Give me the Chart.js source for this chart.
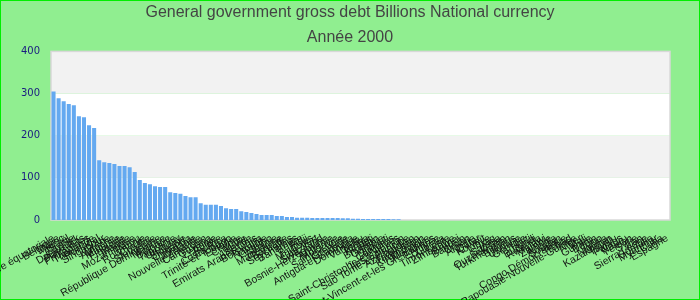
<!DOCTYPE html>
<html>
<head>
<meta charset="utf-8">
<script src="https://cdn.jsdelivr.net/npm/chart.js@4/dist/chart.umd.min.js"></script>
<style>
  body { margin: 0; background: #90ee90; }
  canvas { display: block; }
</style>
</head>
<body>
<canvas id="debt" width="700" height="300"></canvas>
<script>
var countries = [
  "Guinée équatoriale", "Belgique", "Maroc", "Israël", "Égypte", "Danemark", "Pays-Bas", "Philippines",
  "Thaïlande", "Portugal", "Singapour", "Grèce", "Autriche", "Malaisie", "Finlande", "Irlande",
  "Mozambique", "Pérou", "Roumanie", "Croatie", "Slovaquie", "République Dominicaine", "Maurice", "Bulgarie",
  "Tanzanie", "Uruguay", "Slovénie", "Ouganda", "Jordanie", "Nouvelle-Zélande", "Cameroun", "Guyana",
  "Lettonie", "Bolivie", "Costa Rica", "Trinité-et-Tobago", "Estonie", "Chypre", "Malte", "Islande",
  "Emirats Arabes Unis", "Botswana", "Namibie", "Lesotho", "Albanie", "Macédoine", "Barbade", "Seychelles",
  "Bahamas", "Belize", "Fidji", "Maldives", "Cap-Vert", "Swaziland", "Bosnie-Herzégovine", "Arménie",
  "Moldavie", "Sainte-Lucie", "Grenade", "Antigua-et-Barbuda", "Dominique", "Vanuatu", "Tonga", "Kiribati",
  "Bhoutan", "Gambie", "Djibouti", "Comores", "Saint-Christophe-et-Niévès", "Îles Salomon", "Sao Tomé-et-Principe", "Azerbaïdjan",
  "Tadjikistan", "Kirghizistan", "Mongolie", "Saint-Vincent-et-les Grenadines", "Érythrée", "Libéria", "Timor-Leste", "Zimbabwe",
  "Brunei", "Bahreïn", "Oman", "Algérie", "Qatar", "Koweït", "Libye", "Iraq",
  "Samoa", "Ouzbékistan", "Turkménistan", "Bélarus", "Ukraine", "Géorgie", "Haïti", "Burundi",
  "Rwanda", "Malawi", "Zambie", "Angola", "Soudan", "Congo Démocratique", "Tchad", "Papouasie-Nouvelle-Guinée",
  "Niger", "Mali", "Guinée", "Bénin", "Togo", "Nigéria", "Kazakhstan", "Tuvalu",
  "Palaos", "Nauru", "Yémen", "Syrie", "Iran", "Sierra Leone", "Somalie", "Myanmar",
  "Cuba", "Espagne"
];

var debt2000 = [
  305, 289, 282, 275, 272, 246, 244, 225,
  218, 142, 137, 135, 133, 128, 128, 125,
  114, 95, 88, 85, 80, 78, 78, 66,
  64, 62, 57, 54, 54, 40, 36, 36,
  36, 33, 28, 26, 26, 21, 19, 16.6,
  14.2, 12, 11.8, 11.6, 9.5, 9.3, 7.1, 6.9,
  5.3, 5.2, 5.1, 5.0, 4.9, 4.8, 4.7, 4.6,
  4.5, 4.4, 4.3, 2.9, 2.8, 2.6, 2.5, 2.4,
  2.3, 2.2, 2.1, 2.0, 1.9, 0, 0, 0,
  0, 0, 0, 0, 0, 0, 0, 0,
  0, 0, 0, 0, 0, 0, 0, 0,
  0, 0, 0, 0, 0, 0, 0, 0,
  0, 0, 0, 0, 0, 0, 0, 0,
  0, 0, 0, 0, 0, 0, 0, 0,
  0, 0, 0, 0, 0, 0, 0, 0,
  0, 0
];

var yTicks = [0, 100, 200, 300, 400];

// background, frame, alternating bands behind the bars
var backdrop = {
  id: "backdrop",
  beforeDraw: function (chart) {
    var c = chart.ctx;
    var area = chart.chartArea;
    var y = chart.scales.y;
    c.save();
    c.fillStyle = "#90ee90";
    c.fillRect(0, 0, chart.width, chart.height);
    c.strokeStyle = "#00ee00";
    c.lineWidth = 1;
    c.strokeRect(0.5, 0.5, chart.width - 1, chart.height - 1);
    for (var i = 0; i < yTicks.length - 1; i++) {
      var top = y.getPixelForValue(yTicks[i + 1]);
      var bottom = y.getPixelForValue(yTicks[i]);
      c.fillStyle = i % 2 === 0 ? "#ffffff" : "#f2f2f2";
      c.fillRect(area.left, top, area.right - area.left, bottom - top);
    }
    c.strokeStyle = "#d8d8d8";
    c.lineWidth = 1.5;
    c.strokeRect(area.left, area.top, area.right - area.left, area.bottom - area.top);
    c.restore();
  },
};

var ctx = document.getElementById("debt").getContext("2d");
var chart = new Chart(ctx, {
  type: "bar",
  data: {
    labels: countries,
    datasets: [
      {
        label: "Année 2000",
        data: debt2000,
        backgroundColor: "#64a9f0",
        borderWidth: 0,
        barPercentage: 0.8,
        categoryPercentage: 1.0,
      },
    ],
  },
  options: {
    responsive: false,
    animation: false,
    devicePixelRatio: 1,
    layout: { padding: 0 },
    plugins: {
      legend: { display: false },
      tooltip: { enabled: false },
      title: {
        display: true,
        text: "General government gross debt Billions National currency",
        color: "#444444",
        font: { family: "Liberation Sans, Arial", size: 16, weight: "normal" },
        padding: { top: 3, bottom: 6 },
      },
      subtitle: {
        display: true,
        text: "Année 2000",
        color: "#444444",
        font: { family: "Liberation Sans, Arial", size: 16, weight: "normal" },
        padding: { top: 0, bottom: 4 },
      },
    },
    scales: {
      x: {
        grid: { display: false, drawTicks: false },
        border: { display: false },
        ticks: {
          autoSkip: false,
          minRotation: 30,
          maxRotation: 30,
          padding: 12,
          color: "#111111",
          font: { family: "Liberation Sans, Arial", size: 10.5 },
        },
        afterFit: function (axis) {
          axis.height = 80;
          axis.paddingLeft = 0;
          axis.paddingRight = 0;
        },
      },
      y: {
        min: 0,
        max: 400,
        grid: { display: false, drawTicks: false },
        border: { display: false },
        ticks: {
          stepSize: 100,
          padding: 11,
          color: "#1a1a80",
          font: { family: "DejaVu Sans", size: 10 },
        },
        afterFit: function (axis) {
          axis.width = 51;
        },
      },
      // empty right-hand axis, only keeps the green margin right of the plot
      spacer: {
        position: "right",
        grid: { display: false, drawTicks: false },
        border: { display: false },
        ticks: { display: false },
        afterFit: function (axis) {
          axis.width = 30;
        },
      },
    },
  },
  plugins: [backdrop],
});
</script>
</body>
</html>
